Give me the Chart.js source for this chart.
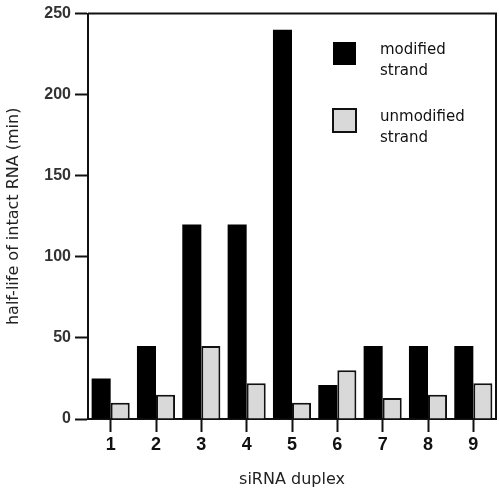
<!DOCTYPE html>
<html>
<head>
<meta charset="utf-8">
<script src="https://cdn.jsdelivr.net/npm/chart.js@4"></script>
<style>
  html, body { margin: 0; padding: 0; background: #fff; }
  #wrap { width: 499px; height: 493px; }
</style>
</head>
<body>
<div id="wrap"><canvas id="chart"></canvas></div>
<script>
// --- data ---
const duplexes = ['1', '2', '3', '4', '5', '6', '7', '8', '9'];
const modifiedStrand = [25, 45, 120, 120, 240, 21, 45, 45, 45];
const unmodifiedStrand = [10, 15, 45, 22, 10, 30, 13, 15, 22];
const yTicks = [0, 50, 100, 150, 200, 250];
const legendLabels = [['modified', 'strand'], ['unmodified', 'strand']];

const FONT = '"DejaVu Sans", Verdana, sans-serif';

// top + right frame and the two-line legend
const framePlugin = {
    id: 'frameAndLegend',
    afterDraw(chart) {
        const ctx = chart.ctx;
        const a = chart.chartArea;
        ctx.save();
        ctx.strokeStyle = '#111';
        ctx.lineWidth = 2;
        ctx.beginPath();
        ctx.moveTo(a.left, a.top);
        ctx.lineTo(a.right, a.top);
        ctx.lineTo(a.right, a.bottom);
        ctx.stroke();

        // legend
        const items = chart.data.datasets;
        const sx = 333, sw = 23;
        const rows = [42, 109];
        ctx.font = '15px ' + FONT;
        ctx.textBaseline = 'middle';
        items.forEach((ds, i) => {
            const y = rows[i];
            ctx.fillStyle = ds.backgroundColor;
            ctx.fillRect(sx, y, sw, sw);
            if (ds.borderWidth) {
                ctx.lineWidth = 2;
                ctx.strokeStyle = '#111';
                ctx.strokeRect(sx, y, sw, sw);
            }
            ctx.fillStyle = '#111';
            legendLabels[i].forEach((t, k) => {
                ctx.fillText(t, 380, y + 8 + k * 21);
            });
        });
        ctx.restore();
    }
};

new Chart(document.getElementById('chart').getContext('2d'), {
    type: 'bar',
    data: {
        labels: duplexes,
        datasets: [{
            label: 'modified strand',
            data: modifiedStrand,
            backgroundColor: '#000',
            borderWidth: 0,
            categoryPercentage: 0.84,
            barPercentage: 1
        }, {
            label: 'unmodified strand',
            data: unmodifiedStrand,
            backgroundColor: '#d9d9d9',
            borderColor: '#111',
            borderWidth: 2,
            borderSkipped: 'bottom',
            categoryPercentage: 0.84,
            barPercentage: 1
        }]
    },
    options: {
        responsive: true,
        maintainAspectRatio: false,
        animation: false,
        layout: { padding: { top: 12, right: 3, left: 0, bottom: 0 } },
        plugins: { legend: { display: false }, tooltip: { enabled: false } },
        scales: {
            x: {
                grid: { drawOnChartArea: false, offset: false, tickLength: 13, tickWidth: 2, tickColor: '#111' },
                border: { color: '#111', width: 2 },
                ticks: { color: '#111', font: { family: '"Liberation Sans", Arial, sans-serif', size: 18, weight: 'bold' }, padding: 2 },
                title: {
                    display: true, text: 'siRNA duplex', color: '#222',
                    font: { family: FONT, size: 16 },
                    padding: { top: 11 }
                },
                afterFit(scale) { scale.height = 74; }
            },
            y: {
                min: 0, max: 250,
                afterBuildTicks(scale) { scale.ticks = yTicks.map(v => ({ value: v })); },
                grid: { drawOnChartArea: false, tickLength: 13, tickWidth: 2, tickColor: '#111' },
                border: { color: '#111', width: 2 },
                ticks: { color: '#333', font: { family: '"Liberation Sans", Arial, sans-serif', size: 16, weight: 'bold' }, padding: 4 },
                title: {
                    display: true, text: 'half-life of intact RNA (min)', color: '#222',
                    font: { family: FONT, size: 16 },
                    padding: { bottom: 4 }
                },
                afterFit(scale) { scale.width = 88; }
            }
        }
    },
    plugins: [framePlugin]
});
</script>
</body>
</html>
